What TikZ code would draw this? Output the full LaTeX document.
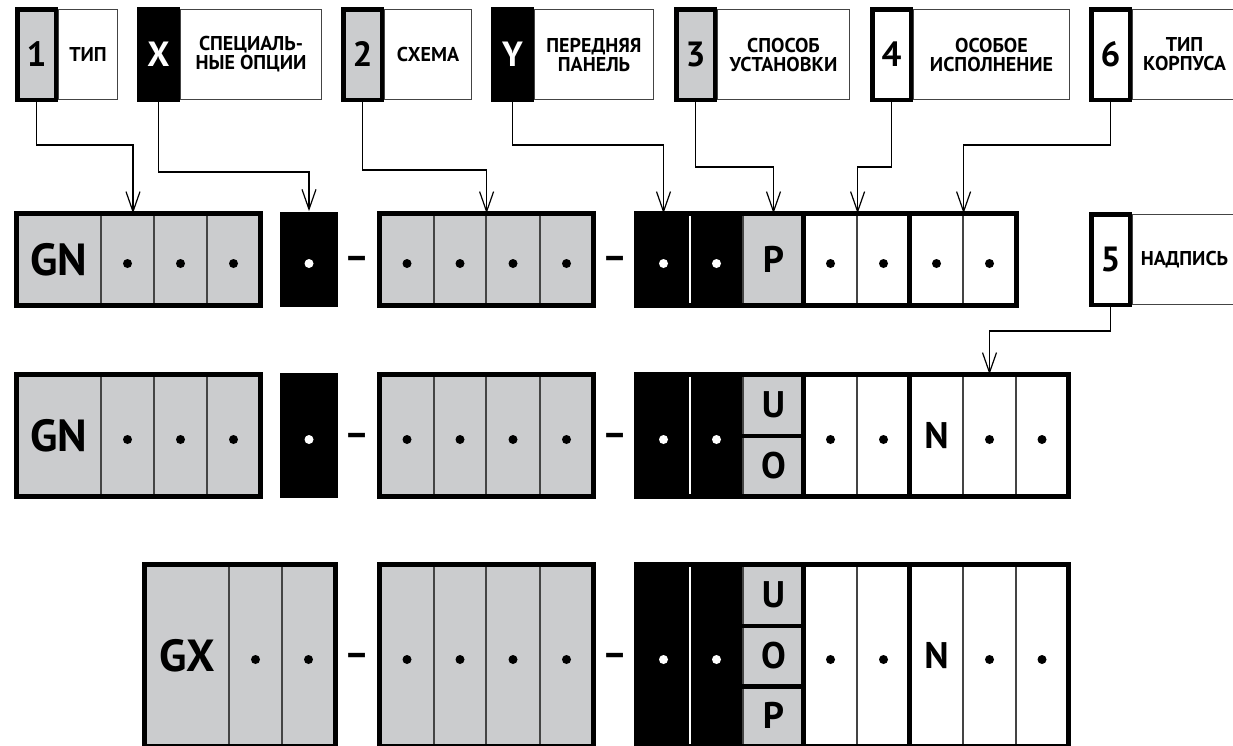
\documentclass[tikz,border=0pt]{standalone}
\usepackage{fontspec}
\setmainfont{PT Sans}
\usetikzlibrary{arrows.meta,positioning}
\definecolor{cellgray}{RGB}{203,204,206}
\definecolor{linegray}{RGB}{68,68,68}

\begin{document}
\begin{tikzpicture}[x=1pt, y=-1pt,
    numbox/.style={draw, line width=4.5pt, minimum width=38.5pt, minimum height=90.5pt, inner sep=0pt, font=\bfseries\fontsize{35}{35}\selectfont},
    labbox/.style={draw=linegray, line width=1pt, minimum height=90pt, inner sep=0pt, align=center, font=\bfseries\fontsize{20}{19}\selectfont},
    cell/.style={draw=linegray, line width=1.2pt, fill=cellgray, inner sep=0pt},
    blk/.style={fill=black, draw=white},
    frame/.style={line width=4.5pt},
    conn/.style={line width=1.2pt, -{Straight Barb[length=20pt, width=14pt]}},
    big/.style={font=\bfseries\fontsize{45}{45}\selectfont},
    mid/.style={font=\bfseries\fontsize{37}{37}\selectfont},
    dashtxt/.style={inner sep=0pt, font=\bfseries\fontsize{38}{38}\selectfont, text height=13pt, text depth=0pt}]
    \useasboundingbox (0,0) rectangle (1233,745);

    \node[numbox, fill=cellgray] (n1) at (36.5,54.5) {1};
    \node[labbox, minimum width=59, right=0pt of n1] (l1) {ТИП};
    \node[numbox, fill=black, text=white] (nX) at (158.5,54.5) {X};
    \node[labbox, minimum width=141, right=0pt of nX] (lX) {СПЕЦИАЛЬ-\\НЫЕ ОПЦИИ};
    \node[numbox, fill=cellgray] (n2) at (362.5,54.5) {2};
    \node[labbox, minimum width=87, right=0pt of n2] (l2) {СХЕМА};
    \node[numbox, fill=black, text=white] (nY) at (512.5,54.5) {Y};
    \node[labbox, minimum width=119, right=0pt of nY] (lY) {ПЕРЕДНЯЯ\\ПАНЕЛЬ};
    \node[numbox, fill=cellgray] (n3) at (695.5,54.5) {3};
    \node[labbox, minimum width=132, right=0pt of n3] (l3) {СПОСОБ\\УСТАНОВКИ};
    \node[numbox, fill=white] (n4) at (891.5,54.5) {4};
    \node[labbox, minimum width=156, right=0pt of n4] (l4) {ОСОБОЕ\\ИСПОЛНЕНИЕ};
    \node[numbox, fill=white] (n6) at (1110.5,54.5) {6};
    \node[labbox, minimum width=104, right=0pt of n6] (l6) {ТИП\\КОРПУСА};
    \node[numbox, fill=white] (n5) at (1110.5,259.5) {5};
    \node[labbox, minimum width=104, right=0pt of n5] (l5) {НАДПИСЬ};

    % cells found in all three rows
    \foreach \r/\yc/\h in {A/259.5/91, B/435.5/121, C/655.5/181}{
        \foreach \nm/\xa/\xb in {s1/380/434, s2/434/486, s3/486/540, s4/540/593}
            \node[cell, minimum width=\xb-\xa, minimum height=\h] (\r-\nm) at ({(\xa+\xb)/2},\yc) {};
        \foreach \nm/\xa/\xb in {b1/637/690, b2/690/743}
            \node[cell, blk, minimum width=\xb-\xa, minimum height=\h] (\r-\nm) at ({(\xa+\xb)/2},\yc) {};
        \foreach \nm/\xa/\xb in {w1/804/857, w2/857/910}
            \node[cell, fill=white, minimum width=\xb-\xa, minimum height=\h] (\r-\nm) at ({(\xa+\xb)/2},\yc) {};
    }

    \node[cell, big, minimum width=84, minimum height=91] (A-t1) at (59,259.5) {GN};
    \node[cell, big, minimum width=84, minimum height=121] (B-t1) at (59,435.5) {GN};
    \foreach \r/\yc/\h in {A/259.5/91, B/435.5/121}{
        \foreach \nm/\xa/\xb in {t2/101/154, t3/154/207, t4/207/260}
            \node[cell, minimum width=\xb-\xa, minimum height=\h] (\r-\nm) at ({(\xa+\xb)/2},\yc) {};
    }
    \node[cell, fill=black, draw=none, minimum width=58, minimum height=95.5] (A-x) at (309,259.5) {};
    \node[cell, fill=black, draw=none, minimum width=58, minimum height=125.5] (B-x) at (309,435.5) {};
    \node[cell, big, minimum width=84, minimum height=181] (C-t1) at (187,655.5) {GX};
    \node[cell, minimum width=53, minimum height=181] (C-t2) at (255.5,655.5) {};
    \node[cell, minimum width=53, minimum height=181] (C-t3) at (308.5,655.5) {};

    \node[cell, mid, minimum width=61, minimum height=91] (A-p) at (773.5,259.5) {P};
    \node[cell, fill=white, minimum width=53, minimum height=91] (A-w3) at (936.5,259.5) {};
    \node[cell, fill=white, minimum width=53, minimum height=91] (A-w4) at (989.5,259.5) {};

    \node[cell, mid, minimum width=61, minimum height=60.5] (B-u) at (773.5,405.25) {U};
    \node[cell, mid, minimum width=61, minimum height=60.5] (B-o) at (773.5,465.75) {O};
    \node[cell, mid, minimum width=61, minimum height=60.33] (C-u) at (773.5,595.17) {U};
    \node[cell, mid, minimum width=61, minimum height=60.33] (C-o) at (773.5,655.5) {O};
    \node[cell, mid, minimum width=61, minimum height=60.33] (C-p) at (773.5,715.83) {P};
    \foreach \r/\yc/\h in {B/435.5/121, C/655.5/181}{
        \node[cell, fill=white, mid, minimum width=53, minimum height=\h] (\r-n) at (936.5,\yc) {N};
        \node[cell, fill=white, minimum width=53, minimum height=\h] (\r-w3) at (989.5,\yc) {};
        \node[cell, fill=white, minimum width=52, minimum height=\h] (\r-w4) at (1042,\yc) {};
    }

    \foreach \r/\y in {A/263, B/440, C/660}{
        \node[dashtxt] (\r-d1) at (357.5,\y) {–};
        \node[dashtxt] (\r-d2) at (615,\y) {–};
    }

    \draw[frame] (A-t1.north west) rectangle (A-t4.south east);
    \draw[frame] (B-t1.north west) rectangle (B-t4.south east);
    \draw[frame] (C-t1.north west) rectangle (C-t3.south east);
    \foreach \r in {A,B,C}{
        \draw[frame] (\r-s1.north west) rectangle (\r-s4.south east);
        \draw[frame] (\r-b1.north west) rectangle (\r-w4.south east);
        \draw[frame] (\r-w1.north west) -- (\r-w1.south west);
    }
    \draw[frame] (A-w3.north west) -- (A-w3.south west);
    \draw[frame] (B-n.north west) -- (B-n.south west);
    \draw[frame] (C-n.north west) -- (C-n.south west);
    \draw[frame] (B-u.south west) -- (B-u.south east);
    \draw[frame] (C-u.south west) -- (C-u.south east);
    \draw[frame] (C-o.south west) -- (C-o.south east);

    \foreach \c in {A-t2,A-t3,A-t4,B-t2,B-t3,B-t4,C-t2,C-t3}
        \fill ([yshift=-4pt]\c.center) circle (4.5pt);
    \foreach \r in {A,B,C}
        \foreach \c in {s1,s2,s3,s4,w1,w2,w3,w4}
            \fill ([yshift=-4pt]\r-\c.center) circle (4.5pt);
    \foreach \c in {A-x,B-x,A-b1,A-b2,B-b1,B-b2,C-b1,C-b2}
        \fill[white] ([yshift=-4pt]\c.center) circle (4.5pt);

    \draw[conn] (n1.south) -- ++(0,43) -| ([xshift=5.5pt]A-t2.north);
    \draw[conn] (nX.south) -- ++(0,70) -| (A-x.north);
    \draw[conn] (n2.south) -- ++(0,68) -| (A-s2.north east);
    \draw[conn] (nY.south) -- ++(0,43) -| (A-b1.north);
    \draw[conn] (n3.south) -- ++(0,65) -| (A-p.north);
    \draw[conn] (n4.south) -- ++(0,65) -| (A-w1.north east);
    \draw[conn] (n6.south) -- ++(0,43) -| (A-w3.north east);
    \draw[conn] (n5.south) -- ++(0,24) -| (B-w3.north);
\end{tikzpicture}
\end{document}
